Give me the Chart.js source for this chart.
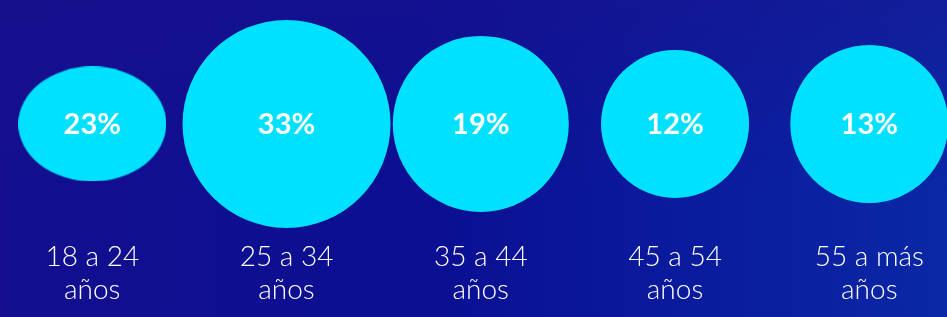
<!DOCTYPE html>
<html>
<head>
<meta charset="utf-8">
<script src="https://cdn.jsdelivr.net/npm/chart.js@4"></script>
<style>
  html, body { margin: 0; padding: 0; }
  body {
    width: 947px; height: 317px; overflow: hidden;
    background: linear-gradient(180deg, rgba(28,18,140,0.45) 0%, rgba(10,12,142,0) 60%),
                linear-gradient(90deg, #130f8f 0%, #0b0f92 45%, #0a1c9e 75%, #0a28a6 100%);
  }
  #wrap { position: relative; width: 947px; height: 317px; }
</style>
</head>
<body>
<div id="wrap"><canvas id="ageChart"></canvas></div>
<script>
// age groups and their share
const categories = [['18 a 24', 'años'], ['25 a 34', 'años'], ['35 a 44', 'años'], ['45 a 54', 'años'], ['55 a más', 'años']];
const shares = [23, 33, 19, 12, 13];
// bubble radius as drawn in the original graphic
const bubbleSize = [57.5, 104, 88, 74, 79];

const cyan = '#00e1ff';

// first group is drawn as a flattened bubble
function ellipseStyle(r) {
    const c = document.createElement('canvas');
    c.width = Math.round(r * 2 * 1.29);
    c.height = Math.round(r * 2);
    const g = c.getContext('2d');
    g.fillStyle = cyan;
    g.beginPath();
    g.ellipse(c.width / 2, c.height / 2, c.width / 2, c.height / 2, 0, 0, Math.PI * 2);
    g.fill();
    return c;
}
const ellipse = ellipseStyle(bubbleSize[0]);

const shareLabels = {
    id: 'shareLabels',
    afterDatasetsDraw(chart) {
        const ctx = chart.ctx;
        const meta = chart.getDatasetMeta(0);
        ctx.save();
        ctx.fillStyle = '#ffffff';
        ctx.font = 'bold 29px Lato';
        ctx.textAlign = 'center';
        ctx.textBaseline = 'middle';
        meta.data.forEach((el, i) => {
            ctx.fillText(shares[i] + '%', el.x, el.y + 1);
        });
        ctx.restore();
    }
};

new Chart(document.getElementById('ageChart'), {
    type: 'bubble',
    data: {
        datasets: [{
            data: shares.map((v, i) => ({ x: i, y: 0, r: bubbleSize[i] })),
            backgroundColor: cyan,
            borderWidth: 0,
            hoverBorderWidth: 0,
            clip: false,
            pointStyle: ctx => ctx.dataIndex === 0 ? ellipse : 'circle'
        }]
    },
    options: {
        responsive: true,
        maintainAspectRatio: false,
        animation: false,
        events: [],
        layout: { padding: { top: 0, left: 0, right: 0, bottom: 10 }, autoPadding: false },
        plugins: { legend: { display: false }, tooltip: { enabled: false } },
        scales: {
            x: {
                type: 'linear',
                min: -0.475,
                max: 4.4,
                grid: { display: false, drawTicks: false },
                border: { display: false },
                afterBuildTicks: s => { s.ticks = categories.map((c, i) => ({ value: i })); },
                ticks: {
                    color: '#ffffff',
                    font: { family: 'Lato', size: 28, weight: 300, lineHeight: 1.2 },
                    padding: 0,
                    maxRotation: 0,
                    autoSkip: false,
                    callback: v => categories[v]
                }
            },
            y: {
                display: false,
                min: -0.935,
                max: 1
            }
        }
    },
    plugins: [shareLabels]
});
</script>
</body>
</html>
